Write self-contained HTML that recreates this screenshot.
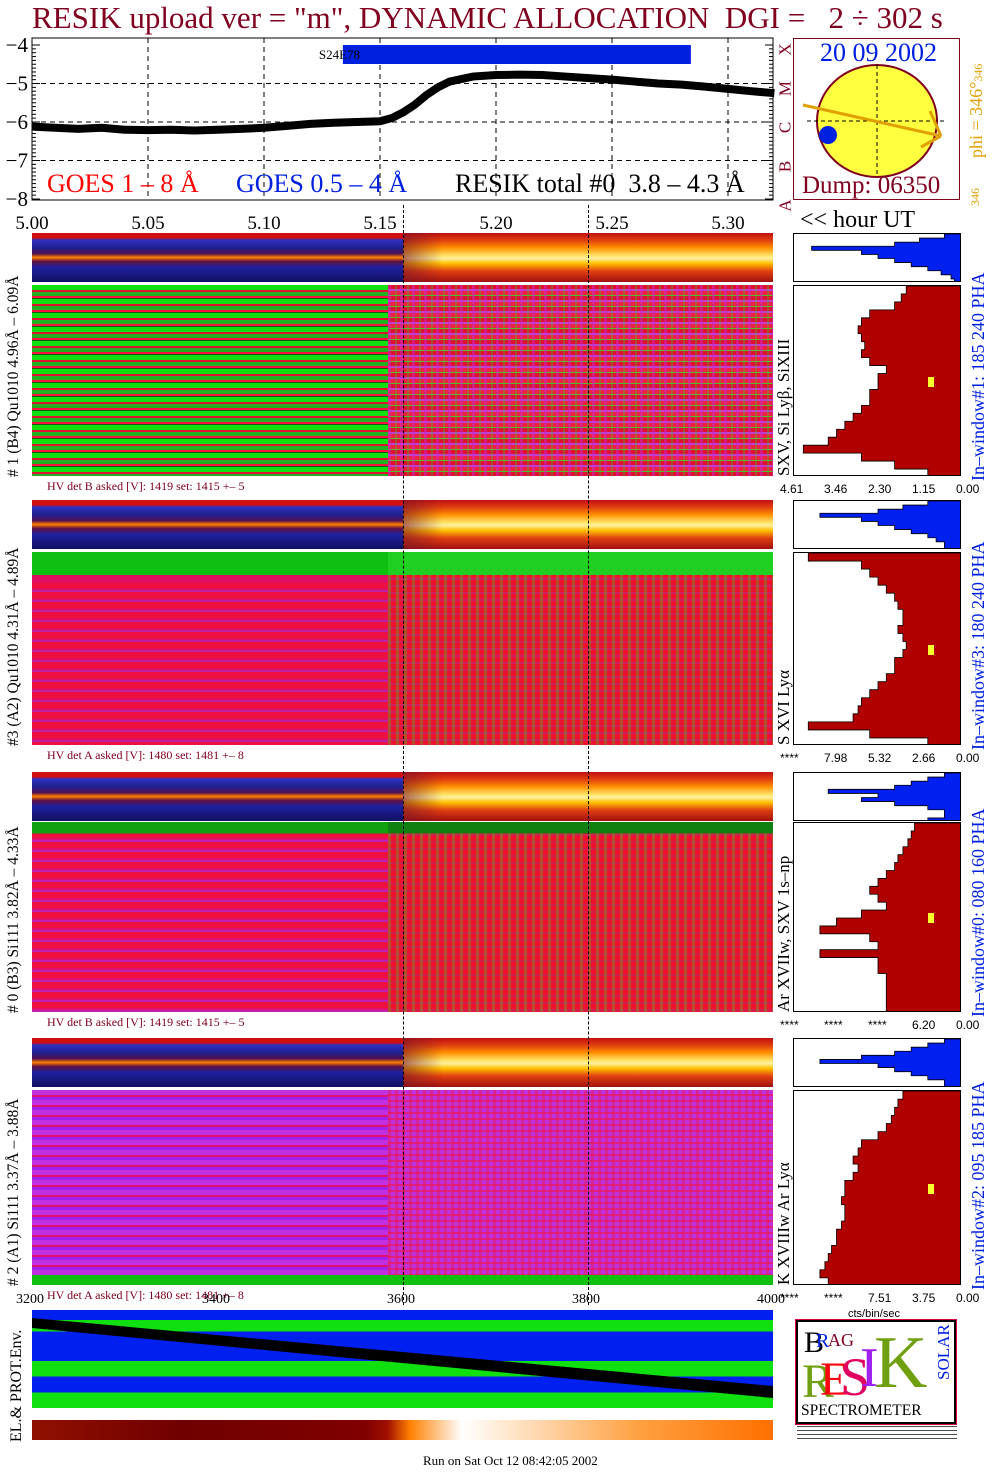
<!DOCTYPE html>
<html><head><meta charset="utf-8">
<style>
body{margin:0;background:#fff;width:1004px;height:1476px;position:relative;overflow:hidden;font-family:"Liberation Serif",serif;}
.a{position:absolute;}
.rot{position:absolute;transform-origin:0 0;transform:rotate(-90deg);white-space:nowrap;}
.strip{position:absolute;left:32px;width:741px;height:49px;
background:linear-gradient(180deg,#d01010 0,#d01010 10%,#3030c0 14%,#202090 30%,#501050 42%,#ff8000 50%,#601040 58%,#2020a0 70%,#101060 100%);}
.strip .glow{position:absolute;left:371px;width:370px;top:0;height:100%;
background:linear-gradient(180deg,#c01010 0,#e04010 15%,#ff9000 30%,#ffe060 45%,#fff0a0 52%,#ffc000 62%,#e04010 78%,#a01010 100%);}
.strip .glow2{position:absolute;left:371px;width:40px;top:0;height:100%;background:linear-gradient(90deg,rgba(120,20,40,0.6),rgba(0,0,0,0));}
.big{position:absolute;left:32px;width:741px;}
.big .l,.big .r{position:absolute;top:0;height:100%;}
.big .l{left:0;width:356px;}
.big .r{left:356px;width:385px;}
.hv{position:absolute;left:47px;font-size:12px;color:#800020;}
.ht{position:absolute;font-size:12px;font-family:"Liberation Sans",sans-serif;}
.vline{position:absolute;width:0;border-left:1px dashed #000;}
</style></head><body>
<div class="a" style="left:32px;top:0px;font-size:31px;color:#800020;white-space:nowrap;">RESIK upload ver = "m", DYNAMIC ALLOCATION&nbsp; DGI =&nbsp;&nbsp; 2 ÷ 302 s</div>

<svg class="a" style="left:0;top:0" width="1004" height="240" id="goes"></svg>

<div class="a" style="left:793px;top:38px;width:167px;height:162px;border:1px solid #800020;box-sizing:border-box;"></div>
<svg class="a" style="left:793px;top:38px" width="167" height="162">
<ellipse cx="84" cy="83" rx="60" ry="56" fill="#ffff40" stroke="#800020" stroke-width="2"/>
<line x1="84" y1="27" x2="84" y2="139" stroke="#000" stroke-dasharray="4,3"/>
<line x1="14" y1="83" x2="154" y2="83" stroke="#000" stroke-dasharray="4,3"/>
<line x1="10" y1="67" x2="148" y2="98" stroke="#e0a000" stroke-width="3"/>
<line x1="148" y1="98" x2="137" y2="73" stroke="#e0a000" stroke-width="3"/>
<line x1="148" y1="98" x2="128" y2="109" stroke="#e0a000" stroke-width="3"/>
<ellipse cx="35" cy="97" rx="9" ry="9" fill="#0020e0"/>
</svg>
<div class="a" style="left:820px;top:38px;font-size:26px;color:#0020e0;">20 09 2002</div>
<div class="a" style="left:802px;top:172px;font-size:25px;color:#800020;">Dump: 06350</div>
<div class="rot" style="left:966px;top:158px;font-size:18px;color:#e0a000;">phi = 346°<span style="font-size:12px">346</span></div>
<div class="rot" style="left:968px;top:206px;font-size:12px;color:#e0a000;">346</div>
<div class="a" style="left:776px;top:30px;width:18px;font-size:17px;color:#800020;line-height:39px;text-align:center;">
<div style="transform:rotate(-90deg)">X</div><div style="transform:rotate(-90deg)">M</div><div style="transform:rotate(-90deg)">C</div><div style="transform:rotate(-90deg)">B</div><div style="transform:rotate(-90deg)">A</div></div>

<div class="a" style="left:47px;top:169px;font-size:26px;color:#ff0000;">GOES 1 – 8 Å</div>
<div class="a" style="left:236px;top:169px;font-size:26px;color:#0020e0;">GOES 0.5 – 4 Å</div>
<div class="a" style="left:455px;top:169px;font-size:26px;color:#000;white-space:nowrap;">RESIK total #0&nbsp; 3.8 – 4.3 Å</div>
<div class="a" style="left:800px;top:207px;font-size:24px;">&lt;&lt; hour UT</div>

<div id="panels"></div>

<div class="vline" style="left:403px;top:205px;height:1100px;"></div>
<div class="vline" style="left:588px;top:205px;height:1100px;"></div>

<div class="a" style="left:0;top:1292px;width:790px;font-size:14px;">
<span class="a" style="left:16px">3200</span><span class="a" style="left:202px">3400</span><span class="a" style="left:387px">3600</span><span class="a" style="left:572px">3800</span><span class="a" style="left:757px">4000</span></div>
<div class="a" style="left:32px;top:1310px;width:741px;height:98px;background:linear-gradient(180deg,#0020f0 0,#0020f0 10%,#10e010 10%,#10e010 22%,#0020f0 22%,#0020f0 52%,#10e010 52%,#10e010 68%,#0020f0 68%,#0020f0 84%,#10e010 84%,#10e010 100%);"></div>
<svg class="a" style="left:32px;top:1310px" width="741" height="98"><polygon points="0,8 741,76 741,88 0,18" fill="#000"/></svg>
<div class="a" style="left:32px;top:1420px;width:741px;height:20px;background:linear-gradient(90deg,#901000 0,#700000 20%,#800000 45%,#a01000 48%,#ff8000 51%,#ffffff 58%,#ffe0c0 66%,#ffa040 82%,#ff7000 100%);"></div>
<div class="rot" style="left:8px;top:1442px;font-size:16px;">EL.&amp; PROT.Env.</div>
<div class="a" style="left:423px;top:1453px;font-size:13px;">Run on Sat Oct 12 08:42:05 2002</div>
<div class="a" style="left:848px;top:1308px;font-size:11px;font-family:'Liberation Sans',sans-serif;">cts/bin/sec</div>

<div class="a" style="left:796px;top:1320px;width:160px;height:104px;border:2px solid #000;outline:1px solid #e00040;box-sizing:border-box;overflow:hidden;">
<span class="a" style="left:6px;top:4px;font-size:30px;color:#000;">B</span>
<span class="a" style="left:18px;top:8px;font-size:20px;color:#0020e0;">R</span><span class="a" style="left:30px;top:8px;font-size:18px;color:#800020;">AG</span>
<span class="a" style="left:4px;top:32px;font-size:48px;color:#70a010;">R</span>
<span class="a" style="left:22px;top:30px;font-size:48px;color:#ff0010;">E</span>
<span class="a" style="left:42px;top:24px;font-size:54px;color:#e00060;">S</span>
<span class="a" style="left:62px;top:14px;font-size:56px;color:#a020f0;">I</span>
<span class="a" style="left:76px;top:4px;font-size:74px;line-height:74px;color:#70a010;">K</span>
<span class="rot" style="left:136px;top:58px;font-size:17px;color:#0020e0;">SOLAR</span>
<span class="a" style="left:3px;top:80px;font-size:15.5px;">SPECTROMETER</span>
</div>
<div class="a" style="left:797px;top:1426px;width:160px;height:14px;background:repeating-linear-gradient(180deg,#000 0,#000 1px,#fff 1px,#fff 4px);opacity:0.7;"></div>

<script>
const goesTimes = [5.000,5.010,5.020,5.030,5.040,5.050,5.060,5.070,5.080,5.090,5.100,5.110,5.120,5.130,5.140,5.150,5.155,5.160,5.165,5.170,5.175,5.180,5.190,5.200,5.210,5.220,5.230,5.240,5.250,5.260,5.270,5.280,5.290,5.300,5.310,5.320];
const goesLogFlux = [-6.12,-6.15,-6.18,-6.15,-6.2,-6.21,-6.2,-6.22,-6.2,-6.18,-6.15,-6.1,-6.05,-6.02,-6.0,-5.98,-5.9,-5.75,-5.55,-5.3,-5.1,-4.95,-4.82,-4.78,-4.77,-4.78,-4.82,-4.86,-4.9,-4.95,-5.0,-5.03,-5.08,-5.14,-5.2,-5.25];
const yTicks = [-4,-5,-6,-7,-8];
const xTickLabels = ["5.00","5.05","5.10","5.15","5.20","5.25","5.30"];
const activeRegion = {label:"S24E78", start:5.134, end:5.284};

const X0=32, XPX=116/0.05, Y0=45, YPX=38.5;
const xs = t => X0 + (t-5.0)*XPX;
const ys = v => Y0 + (-4 - v)*YPX;
const NS="http://www.w3.org/2000/svg";
const g=document.getElementById('goes');
function mk(tag,attrs,parent){const e=document.createElementNS(NS,tag);for(const k in attrs)e.setAttribute(k,attrs[k]);(parent||g).appendChild(e);return e;}
const frame=mk('rect',{x:32,y:38,width:741,height:162,fill:'none',stroke:'#000','stroke-width':1});


yTicks.forEach(v=>{
  const y=ys(v);
  if(v>-8&&v<-4){const l=mk('line',{x1:32,x2:773,y1:y,y2:y,stroke:'#000','stroke-dasharray':'5,4'});
  
  }
  const t=mk('text',{x:28,y:y+7,'text-anchor':'end','font-size':21,'font-family':'Liberation Serif'});
  t.textContent='\u2212'+Math.abs(v);
  
  
  for(let k=0;k<10;k++){const yy=ys(v-k*0.1);if(yy<200){mk('line',{x1:32,x2:k==0?40:36,y1:yy,y2:yy,stroke:'#000'});mk('line',{x1:773,x2:k==0?765:769,y1:yy,y2:yy,stroke:'#000'});}}
});
xTickLabels.forEach((s,i)=>{
  const x=xs(5+i*0.05);
  if(i>0){const l=mk('line',{x1:x,x2:x,y1:38,y2:200,stroke:'#000','stroke-dasharray':'5,4'});
  
  }
  const t=mk('text',{x:x,y:229,'text-anchor':'middle','font-size':19,'font-family':'Liberation Serif'});
  t.textContent=s;
  
  
});
const bar=mk('rect',{x:xs(activeRegion.start),y:45,width:xs(activeRegion.end)-xs(activeRegion.start),height:19,fill:'#0020e0'});


const bl=mk('text',{x:xs(activeRegion.start)-24,y:59,'font-size':13,'font-family':'Liberation Serif'});
bl.textContent=activeRegion.label;


const pl=mk('polyline',{points:goesTimes.map((t,i)=>xs(t)+','+ys(goesLogFlux[i])).join(' '),fill:'none',stroke:'#000','stroke-width':8});



const panelTops=[233,500,772,1038];
const bigBounds=[[285,476],[552,745],[822,1012],[1090,1285]];
const leftLabels=["# 1 (B4) Qu1010 4.96Å – 6.09Å","#3 (A2) Qu1010  4.31Å – 4.89Å","# 0 (B3) Si111  3.82Å – 4.33Å","# 2 (A1) Si111  3.37Å – 3.88Å"];
const lineLabels=["SXV, Si Lyβ, SiXIII","S XVI Lyα","Ar XVIIw, SXV 1s–np","K XVIIIw  Ar Lyα"];
const windowLabels=["In–window#1:  185 240 PHA","In–window#3:  180 240 PHA","In–window#0:  080 160 PHA","In–window#2:  095 185 PHA"];
const hvLabels=["HV det B asked [V]:  1419 set:  1415 +–   5","HV det A asked [V]:  1480 set:  1481 +–   8","HV det B asked [V]:  1419 set:  1415 +–   5","HV det A asked [V]:  1480 set:  1481 +–   8"];
const histTicks=[["4.61","3.46","2.30","1.15","0.00"],["****","7.98","5.32","2.66","0.00"],["****","****","****","6.20","0.00"],["****","****","7.51","3.75","0.00"]];
const redProfiles=[
 [0.33,0.36,0.4,0.55,0.6,0.62,0.6,0.58,0.6,0.55,0.45,0.5,0.5,0.55,0.55,0.6,0.65,0.7,0.75,0.8,0.95,0.6,0.4,0.2],
 [0.92,0.6,0.55,0.5,0.45,0.4,0.38,0.35,0.35,0.38,0.35,0.33,0.35,0.4,0.4,0.45,0.5,0.55,0.6,0.62,0.65,0.92,0.55,0.2],
 [0.28,0.3,0.32,0.35,0.38,0.4,0.45,0.5,0.55,0.5,0.45,0.6,0.75,0.85,0.55,0.5,0.85,0.5,0.5,0.45,0.45,0.45,0.45,0.45],
 [0.35,0.38,0.4,0.42,0.45,0.5,0.6,0.62,0.65,0.62,0.65,0.7,0.7,0.72,0.7,0.7,0.72,0.75,0.75,0.78,0.8,0.82,0.85,0.8]];
const blueProfiles=[
 [0.1,0.25,0.4,0.9,0.6,0.5,0.4,0.3,0.2,0.12,0.06,0.04],
 [0.2,0.35,0.5,0.85,0.6,0.5,0.4,0.3,0.2,0.15,0.1,0.1],
 [0.1,0.2,0.3,0.4,0.8,0.5,0.6,0.4,0.2,0.1,0.1,0.2],
 [0.1,0.2,0.3,0.4,0.6,0.85,0.5,0.4,0.3,0.2,0.1,0.1]];
const fills=[
 {l:"repeating-linear-gradient(180deg,#10e010 0,#10e010 5px,#e01030 5px,#e01030 7px,#20b020 7px,#20b020 11px,#ff1040 11px,#ff1040 13px,#106010 13px,#106010 14px)",
  r:"repeating-linear-gradient(90deg,rgba(200,40,220,0.45) 0,rgba(200,40,220,0.45) 3px,rgba(0,0,0,0) 3px,rgba(0,0,0,0) 7px,rgba(60,200,40,0.35) 7px,rgba(60,200,40,0.35) 9px,rgba(0,0,0,0) 9px,rgba(0,0,0,0) 12px),repeating-linear-gradient(180deg,#e01030 0,#e01030 4px,#c040d0 4px,#c040d0 6px,#f02040 6px,#f02040 10px,#50c030 10px,#50c030 11px)"},
 {l:"linear-gradient(180deg,#10c010 0,#10c010 12%,#e01060 12%,#e01060 16%,rgba(0,0,0,0) 16%),repeating-linear-gradient(180deg,#f01040 0,#f01040 6px,#e01060 6px,#e01060 8px,#c020a0 8px,#c020a0 10px)",
  r:"linear-gradient(180deg,#20d020 0,#20d020 12%,rgba(0,0,0,0) 12%),repeating-linear-gradient(90deg,rgba(80,180,30,0.4) 0,rgba(80,180,30,0.4) 3px,rgba(0,0,0,0) 3px,rgba(0,0,0,0) 8px),repeating-linear-gradient(180deg,#f01030 0,#f01030 5px,#d02060 5px,#d02060 7px)"},
 {l:"linear-gradient(180deg,#10a010 0,#10a010 6%,rgba(0,0,0,0) 6%),repeating-linear-gradient(180deg,#f01040 0,#f01040 6px,#e01070 6px,#e01070 8px,#c020b0 8px,#c020b0 10px)",
  r:"linear-gradient(180deg,#108010 0,#108010 6%,rgba(0,0,0,0) 6%),repeating-linear-gradient(90deg,rgba(100,170,30,0.4) 0,rgba(100,170,30,0.4) 3px,rgba(0,0,0,0) 3px,rgba(0,0,0,0) 8px),repeating-linear-gradient(180deg,#f01030 0,#f01030 5px,#d02050 5px,#d02050 7px)"},
 {l:"linear-gradient(0deg,#10c010 0,#10c010 5%,rgba(0,0,0,0) 5%),repeating-linear-gradient(180deg,#c030e0 0,#c030e0 5px,#e01070 5px,#e01070 7px,#a020f0 7px,#a020f0 10px)",
  r:"linear-gradient(0deg,#10c010 0,#10c010 5%,rgba(0,0,0,0) 5%),repeating-linear-gradient(90deg,rgba(240,20,60,0.4) 0,rgba(240,20,60,0.4) 3px,rgba(0,0,0,0) 3px,rgba(0,0,0,0) 7px),repeating-linear-gradient(180deg,#c030e0 0,#c030e0 4px,#e02080 4px,#e02080 6px)"}];
const P=document.getElementById('panels');
function div(cls,style,parent){const d=document.createElement('div');if(cls)d.className=cls;d.setAttribute('style',style);(parent||P).appendChild(d);return d;}
function histSvg(top,h,prof,color,name){
  const s=document.createElementNS(NS,'svg');
  s.setAttribute('width',168);s.setAttribute('height',h);
  s.setAttribute('style','position:absolute;left:793px;top:'+top+'px;border:1px solid #000;box-sizing:border-box;background:#fff');
  
  
  const n=prof.length,pts=['167,0'];
  prof.forEach((w,i)=>{const y0=i*h/n,y1=(i+1)*h/n;pts.push((167-w*166)+','+y0,(167-w*166)+','+y1);});
  pts.push('167,'+h);
  const p=document.createElementNS(NS,'polygon');p.setAttribute('points',pts.join(' '));p.setAttribute('fill',color);p.setAttribute('stroke','#000');p.setAttribute('stroke-width','0.8');s.appendChild(p);
  P.appendChild(s);return s;
}
panelTops.forEach((t,i)=>{
  const st=div('strip','top:'+t+'px');
  
  
  div('glow','',st);div('glow2','',st);
  const [b0,b1]=bigBounds[i];
  const bg=div('big','top:'+b0+'px;height:'+(b1-b0)+'px');
  
  
  div('l','background:'+fills[i].l,bg);div('r','background:'+fills[i].r,bg);
  const hv=div('hv','top:'+(b1+3)+'px');hv.textContent=hvLabels[i];
  
  
  const ll=div('rot','left:5px;top:'+(b1+1)+'px;font-size:15.5px;');ll.textContent=leftLabels[i];
  
  
  const ln=div('rot','left:774px;top:'+(b1)+'px;font-size:17px;');ln.textContent=lineLabels[i];
  
  
  const wl=div('rot','left:968px;top:'+(b1+5)+'px;font-size:18px;color:#0020e0;');wl.textContent=windowLabels[i];
  
  
  histSvg(t,49,blueProfiles[i],'#0020f0','blue-histogram');
  histSvg(b0,b1-b0,redProfiles[i],'#b00000','red-histogram');
  const yb=div('','position:absolute;left:928px;top:'+(b0+(b1-b0)*0.48)+'px;width:6px;height:10px;background:#ffff30');
  
  
  histTicks[i].forEach((s,k)=>{const tk=div('ht','left:'+(780+k*44)+'px;top:'+(b1+6)+'px');tk.textContent=s;
    
    });
});
</script>
</body></html>
